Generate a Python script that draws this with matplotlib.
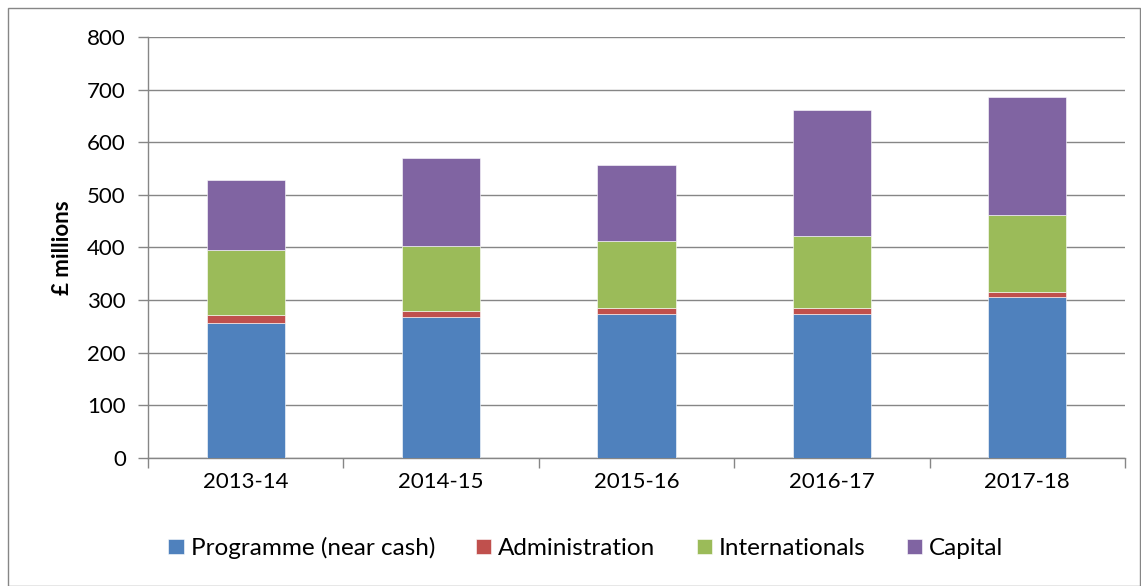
import numpy as np
import matplotlib.pyplot as plt
from matplotlib.patches import Rectangle

years = ["2013-14", "2014-15", "2015-16", "2016-17", "2017-18"]
programme = [257, 267, 274, 274, 305]
administration = [14, 12, 11, 11, 11]
internationals = [124, 123, 127, 136, 145]
capital = [134, 168, 144, 240, 224]

series = [
    ("Programme (near cash)", programme, "#4F81BD"),
    ("Administration", administration, "#C0504D"),
    ("Internationals", internationals, "#9BBB59"),
    ("Capital", capital, "#8064A2"),
]

plt.rcParams["font.family"] = ["Lato", "DejaVu Sans"]

fig = plt.figure(figsize=(11.41, 5.86), dpi=100)
ax = fig.add_axes([0.1297, 0.2184, 0.8563, 0.7186])

x = np.arange(len(years))
bottom = np.zeros(len(years))
for label, vals, color in series:
    ax.bar(x, vals, width=0.4, bottom=bottom, color=color, label=label,
           edgecolor="white", linewidth=0.4, zorder=3)
    bottom += np.array(vals)

ax.set_xlim(-0.5, len(years) - 0.5)
ax.set_ylim(0, 800)
ax.set_yticks(range(0, 801, 100))
ax.set_xticks(x)
ax.set_xticklabels(years, fontsize=16)
ax.set_xticks(np.arange(-0.5, len(years)), minor=True)
ax.tick_params(axis="x", which="major", length=0, pad=10)
ax.tick_params(axis="x", which="minor", length=7, color="#868686", width=1)
ax.tick_params(axis="y", length=7, color="#868686", width=1, labelsize=16, pad=9)

ax.grid(axis="y", color="#868686", linewidth=1, zorder=0)
for s in ["top", "right"]:
    ax.spines[s].set_visible(False)
for s in ["left", "bottom"]:
    ax.spines[s].set_color("#868686")
    ax.spines[s].set_linewidth(1)

ax.set_ylabel("£ millions", fontsize=16, fontweight="bold", labelpad=10)

handles, labels = ax.get_legend_handles_labels()
fig.legend(handles, labels, loc="center", bbox_to_anchor=(586 / 1141, 0.065),
           ncol=4, frameon=False, fontsize=17.5, handlelength=0.62,
           handleheight=0.62, handletextpad=0.29, columnspacing=1.7,
           borderpad=0)

fig.patches.append(Rectangle((0.007, 0.0), 0.992, 0.986, transform=fig.transFigure,
                             fill=False, edgecolor="#868686", linewidth=1))

fig.savefig("out.png", dpi=100)
